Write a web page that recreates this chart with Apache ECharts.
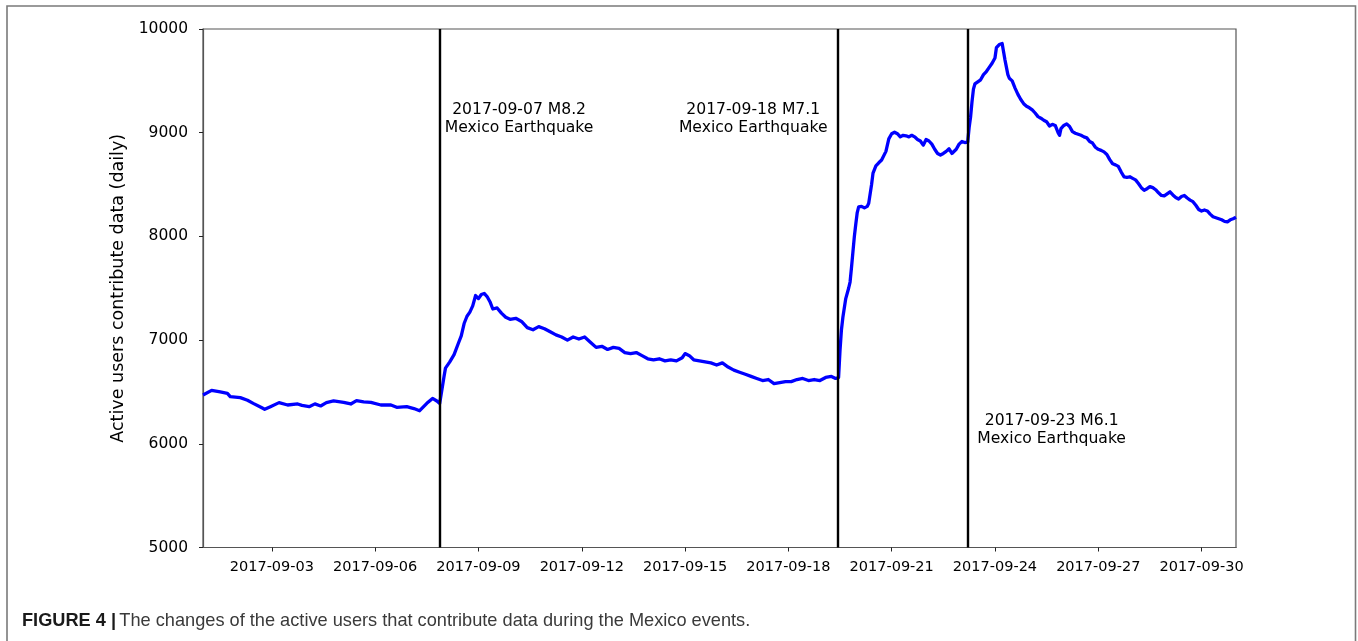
<!DOCTYPE html>
<html>
<head>
<meta charset="utf-8">
<title>Active users during the Mexico earthquakes</title>
<script src="https://cdn.jsdelivr.net/npm/echarts@6/dist/echarts.min.js"></script>
<style>
  html, body { margin: 0; padding: 0; background: #fff; }
  #chart { width: 1358px; height: 641px; }
</style>
</head>
<body>
<div id="chart"></div>
<script>
// Daily active contributing users (rolling), sampled through September 2017 (UTC-7 clock)
const times = [
  '2017-09-01 00:00','2017-09-01 06:00','2017-09-01 12:00','2017-09-01 17:00','2017-09-01 19:00',
  '2017-09-02 02:00','2017-09-02 07:00','2017-09-02 11:00','2017-09-02 16:00','2017-09-02 19:00','2017-09-02 23:00',
  '2017-09-03 05:00','2017-09-03 11:00','2017-09-03 18:00','2017-09-03 21:00',
  '2017-09-04 02:00','2017-09-04 06:00','2017-09-04 10:00','2017-09-04 14:00','2017-09-04 19:00',
  '2017-09-05 02:00','2017-09-05 07:00','2017-09-05 11:00','2017-09-05 16:00','2017-09-05 21:00',
  '2017-09-06 04:00','2017-09-06 11:00','2017-09-06 15:00','2017-09-06 22:00',
  '2017-09-07 03:00','2017-09-07 07:00','2017-09-07 12:00','2017-09-07 16:00','2017-09-07 19:00','2017-09-07 21:00','2017-09-07 22:00',
  '2017-09-08 00:00','2017-09-08 01:00','2017-09-08 04:00','2017-09-08 07:00','2017-09-08 10:00','2017-09-08 12:00',
  '2017-09-08 14:00','2017-09-08 16:00','2017-09-08 18:00','2017-09-08 20:00','2017-09-08 22:00',
  '2017-09-09 00:00','2017-09-09 02:00','2017-09-09 04:00','2017-09-09 06:00','2017-09-09 08:00','2017-09-09 10:00',
  '2017-09-09 13:00','2017-09-09 16:00','2017-09-09 19:00','2017-09-09 22:00',
  '2017-09-10 02:00','2017-09-10 06:00','2017-09-10 10:00','2017-09-10 14:00','2017-09-10 18:00','2017-09-10 22:00',
  '2017-09-11 02:00','2017-09-11 06:00','2017-09-11 10:00','2017-09-11 14:00','2017-09-11 18:00','2017-09-11 22:00',
  '2017-09-12 02:00','2017-09-12 06:00','2017-09-12 10:00','2017-09-12 14:00','2017-09-12 18:00','2017-09-12 22:00',
  '2017-09-13 02:00','2017-09-13 06:00','2017-09-13 10:00','2017-09-13 14:00','2017-09-13 18:00','2017-09-13 22:00',
  '2017-09-14 02:00','2017-09-14 06:00','2017-09-14 10:00','2017-09-14 14:00','2017-09-14 18:00','2017-09-14 22:00',
  '2017-09-15 00:00','2017-09-15 03:00','2017-09-15 06:00','2017-09-15 10:00','2017-09-15 14:00','2017-09-15 18:00','2017-09-15 22:00',
  '2017-09-16 02:00','2017-09-16 06:00','2017-09-16 10:00','2017-09-16 14:00','2017-09-16 18:00','2017-09-16 22:00',
  '2017-09-17 02:00','2017-09-17 06:00','2017-09-17 10:00','2017-09-17 14:00','2017-09-17 18:00','2017-09-17 22:00',
  '2017-09-18 02:00','2017-09-18 06:00','2017-09-18 10:00','2017-09-18 14:00','2017-09-18 18:00','2017-09-18 22:00',
  '2017-09-19 02:00','2017-09-19 06:00','2017-09-19 09:00','2017-09-19 11:00','2017-09-19 12:00','2017-09-19 13:00',
  '2017-09-19 14:00','2017-09-19 16:00','2017-09-19 18:00','2017-09-19 19:00','2017-09-19 20:00','2017-09-19 21:00',
  '2017-09-19 22:00','2017-09-19 23:00',
  '2017-09-20 00:00','2017-09-20 01:00','2017-09-20 03:00','2017-09-20 05:00','2017-09-20 07:00','2017-09-20 08:00',
  '2017-09-20 10:00','2017-09-20 11:00','2017-09-20 13:00','2017-09-20 15:00','2017-09-20 17:00','2017-09-20 18:00',
  '2017-09-20 20:00','2017-09-20 22:00',
  '2017-09-21 00:00','2017-09-21 02:00','2017-09-21 04:00','2017-09-21 06:00','2017-09-21 08:00','2017-09-21 10:00',
  '2017-09-21 12:00','2017-09-21 14:00','2017-09-21 16:00','2017-09-21 18:00','2017-09-21 20:00','2017-09-21 22:00',
  '2017-09-22 00:00','2017-09-22 02:00','2017-09-22 04:00','2017-09-22 06:00','2017-09-22 08:00','2017-09-22 10:00',
  '2017-09-22 12:00','2017-09-22 14:00','2017-09-22 16:00','2017-09-22 18:00','2017-09-22 19:00','2017-09-22 21:00','2017-09-22 23:00',
  '2017-09-23 01:00','2017-09-23 03:00','2017-09-23 05:00','2017-09-23 06:00','2017-09-23 07:00','2017-09-23 08:00',
  '2017-09-23 09:00','2017-09-23 10:00','2017-09-23 12:00','2017-09-23 14:00','2017-09-23 16:00','2017-09-23 18:00',
  '2017-09-23 20:00','2017-09-23 22:00',
  '2017-09-24 00:00','2017-09-24 01:00','2017-09-24 03:00','2017-09-24 05:00','2017-09-24 06:00','2017-09-24 07:00',
  '2017-09-24 09:00','2017-09-24 10:00','2017-09-24 12:00','2017-09-24 14:00','2017-09-24 16:00','2017-09-24 18:00',
  '2017-09-24 20:00','2017-09-24 22:00',
  '2017-09-25 00:00','2017-09-25 02:00','2017-09-25 04:00','2017-09-25 06:00','2017-09-25 08:00','2017-09-25 10:00',
  '2017-09-25 12:00','2017-09-25 14:00','2017-09-25 16:00','2017-09-25 18:00','2017-09-25 20:00','2017-09-25 21:00','2017-09-25 22:00',
  '2017-09-26 00:00','2017-09-26 02:00','2017-09-26 04:00','2017-09-26 06:00','2017-09-26 08:00','2017-09-26 10:00',
  '2017-09-26 12:00','2017-09-26 14:00','2017-09-26 16:00','2017-09-26 18:00','2017-09-26 20:00','2017-09-26 22:00',
  '2017-09-27 00:00','2017-09-27 02:00','2017-09-27 04:00','2017-09-27 06:00','2017-09-27 08:00','2017-09-27 10:00',
  '2017-09-27 12:00','2017-09-27 14:00','2017-09-27 16:00','2017-09-27 18:00','2017-09-27 20:00','2017-09-27 22:00',
  '2017-09-28 00:00','2017-09-28 02:00','2017-09-28 04:00','2017-09-28 06:00','2017-09-28 08:00','2017-09-28 10:00',
  '2017-09-28 12:00','2017-09-28 14:00','2017-09-28 16:00','2017-09-28 18:00','2017-09-28 20:00','2017-09-28 22:00',
  '2017-09-29 00:00','2017-09-29 02:00','2017-09-29 04:00','2017-09-29 06:00','2017-09-29 08:00','2017-09-29 10:00',
  '2017-09-29 12:00','2017-09-29 14:00','2017-09-29 16:00','2017-09-29 18:00','2017-09-29 20:00','2017-09-29 22:00',
  '2017-09-30 00:00','2017-09-30 02:00','2017-09-30 04:00','2017-09-30 06:00','2017-09-30 08:00','2017-09-30 10:00',
  '2017-09-30 12:00','2017-09-30 14:00','2017-09-30 16:00','2017-09-30 18:00','2017-09-30 20:00','2017-09-30 22:00',
  '2017-10-01 00:00'
];

const activeUsers = [
  6470, 6515, 6500, 6487, 6455,
  6445, 6420, 6390, 6355, 6333, 6358,
  6397, 6374, 6384, 6370,
  6358, 6385, 6365, 6397, 6413,
  6400, 6384, 6416, 6405, 6400,
  6374, 6374, 6352, 6358,
  6340, 6319, 6390, 6438, 6413, 6390, 6395,
  6650, 6730, 6790, 6860, 6970, 7040,
  7160, 7230, 7270, 7330, 7430,
  7400, 7440, 7450, 7420, 7370, 7300,
  7310, 7260, 7220, 7200,
  7210, 7180, 7120, 7100, 7130, 7110,
  7080, 7050, 7030, 7000, 7030, 7010,
  7030, 6980, 6930, 6940, 6910, 6930,
  6920, 6880, 6870, 6880, 6850, 6820,
  6810, 6820, 6800, 6810, 6800, 6830,
  6870, 6850, 6810, 6800, 6790, 6780, 6760,
  6780, 6740, 6710, 6690, 6670, 6650,
  6630, 6610, 6620, 6580, 6590, 6600,
  6600, 6620, 6630, 6610, 6620, 6610,
  6640, 6650, 6630, 6640, 6900, 7100,
  7220, 7400, 7500, 7560, 7700, 7850,
  8000, 8120,
  8230, 8285, 8290, 8275, 8290, 8320,
  8500, 8610, 8680, 8710, 8737, 8720,
  8820, 8940,
  8990, 9005, 8990, 8960, 8975, 8970,
  8960, 8975, 8960, 8935, 8920, 8880,
  8935, 8920, 8890, 8840, 8800, 8785,
  8800, 8820, 8845, 8800, 8785, 8840, 8890,
  8915, 8905, 8910, 9050, 9150, 9300,
  9420, 9470, 9490, 9510, 9560, 9590,
  9630, 9670,
  9720, 9820, 9850, 9860, 9780, 9700,
  9560, 9525, 9500, 9430, 9370, 9320,
  9280, 9255,
  9240, 9220, 9190, 9155, 9140, 9120,
  9105, 9065, 9080, 9070, 9000, 8975, 9040,
  9070, 9085, 9060, 9010, 8995, 8985,
  8975, 8960, 8950, 8915, 8900, 8860,
  8840, 8830, 8815, 8790, 8740, 8700,
  8690, 8675, 8620, 8575, 8570, 8575,
  8560, 8545, 8510, 8470, 8445, 8460,
  8480, 8470, 8450, 8420, 8395, 8390,
  8410, 8430, 8400, 8375, 8360, 8385,
  8395, 8370, 8350, 8335, 8300, 8260,
  8245, 8255, 8245, 8215, 8190, 8180,
  8170, 8160, 8145, 8140, 8160, 8170,
  8185
];

// Earthquake markers (UTC-7) and their captions
const quakeTimes = ['2017-09-07 20:50', '2017-09-19 10:20', '2017-09-23 05:00'];
const quakeLabels = [
  '2017-09-07 M8.2\nMexico Earthquake',
  '2017-09-18 M7.1\nMexico Earthquake',
  '2017-09-23 M6.1\nMexico Earthquake'
];
// Where each caption sits on the chart (time, users)
const quakeLabelTimes = ['2017-09-10 04:20', '2017-09-16 23:30', '2017-09-25 15:30'];
const quakeLabelUsers = [9133, 9133, 6133];

const xTickLabels = ['2017-09-03','2017-09-06','2017-09-09','2017-09-12','2017-09-15',
                     '2017-09-18','2017-09-21','2017-09-24','2017-09-27','2017-09-30'];
const yTicks = { min: 5000, max: 10000, step: 1000 };

const axisTitle = 'Active users contribute data (daily)';
const captionBold = 'FIGURE 4 |';
const captionText = 'The changes of the active users that contribute data during the Mexico events.';

// Clock time -> milliseconds, read as UTC so the page's own timezone never matters
function toMs(s) {
  const [d, t] = s.split(' ');
  const [Y, M, D] = d.split('-').map(Number);
  const [h, m] = (t || '00:00').split(':').map(Number);
  return Date.UTC(Y, M - 1, D, h, m);
}

const tickValues = xTickLabels.map(toMs);
const seriesData = times.map((t, i) => [toMs(t), activeUsers[i]]);
const labelData = quakeLabelTimes.map((t, i) => [toMs(t), quakeLabelUsers[i], quakeLabels[i]]);

const FONT = 'DejaVu Sans';
const chart = echarts.init(document.getElementById('chart'), null, { renderer: 'canvas' });

chart.setOption({
  animation: false,
  backgroundColor: '#ffffff',
  grid: {
    left: 203, top: 29, width: 1033, height: 518.5,
    show: true, borderColor: '#555', borderWidth: 1.2, backgroundColor: '#fff'
  },
  xAxis: {
    type: 'value',
    min: toMs('2017-09-01 00:00'),
    max: toMs('2017-10-01 00:00'),
    axisLine: { show: true, lineStyle: { color: '#555', width: 1.2 } },
    axisTick: { show: true, length: 4, inside: false, customValues: tickValues,
                lineStyle: { color: '#222', width: 1 } },
    axisLabel: {
      customValues: tickValues,
      formatter: v => xTickLabels[tickValues.indexOf(v)] || '',
      fontFamily: FONT, fontSize: 14.5, color: '#000', margin: 12
    },
    splitLine: { show: false }
  },
  yAxis: {
    type: 'value',
    min: yTicks.min, max: yTicks.max, interval: yTicks.step,
    name: axisTitle,
    nameLocation: 'middle',
    nameGap: 64,
    nameTextStyle: { fontFamily: FONT, fontSize: 17.5, color: '#000' },
    axisLine: { show: true, lineStyle: { color: '#555', width: 1.2 } },
    axisTick: { show: true, length: 4, lineStyle: { color: '#222', width: 1 } },
    axisLabel: { fontFamily: FONT, fontSize: 15.5, color: '#000', margin: 15,
                 formatter: v => String(v) },
    splitLine: { show: false }
  },
  series: [
    {
      name: 'Active users',
      type: 'line',
      data: seriesData,
      showSymbol: false,
      symbol: 'none',
      lineStyle: { color: '#0000ff', width: 3.3, join: 'round' },
      z: 3,
      markLine: {
        silent: true,
        symbol: ['none', 'none'],
        label: { show: false },
        lineStyle: { color: '#000', width: 2.4, type: 'solid' },
        data: quakeTimes.map(t => ({ xAxis: toMs(t) }))
      }
    },
    {
      name: 'Earthquakes',
      type: 'scatter',
      data: labelData,
      symbolSize: 0,
      silent: true,
      z: 4,
      label: {
        show: true,
        position: 'inside',
        formatter: p => p.data[2],
        fontFamily: FONT,
        fontSize: 15.6,
        lineHeight: 18,
        color: '#000',
        opacity: 1,
        align: 'center',
        verticalAlign: 'middle'
      }
    }
  ],
  graphic: [
    {
      type: 'polyline',
      shape: { points: [[7, 641], [7, 6], [1355.5, 6], [1355.5, 641]] },
      style: { stroke: '#7a7a7a', lineWidth: 1.6, fill: null },
      silent: true
    },
    {
      type: 'text',
      left: 22, top: 612,
      style: {
        text: '{b|' + captionBold + '} {n|' + captionText + '}',
        rich: {
          b: { fontFamily: 'Liberation Sans', fontWeight: 'bold', fontSize: 18.2, fill: '#1a1a1a' },
          n: { fontFamily: 'Liberation Sans', fontSize: 18.2, fill: '#3a3a3a' }
        }
      },
      silent: true
    }
  ]
});
</script>
</body>
</html>
